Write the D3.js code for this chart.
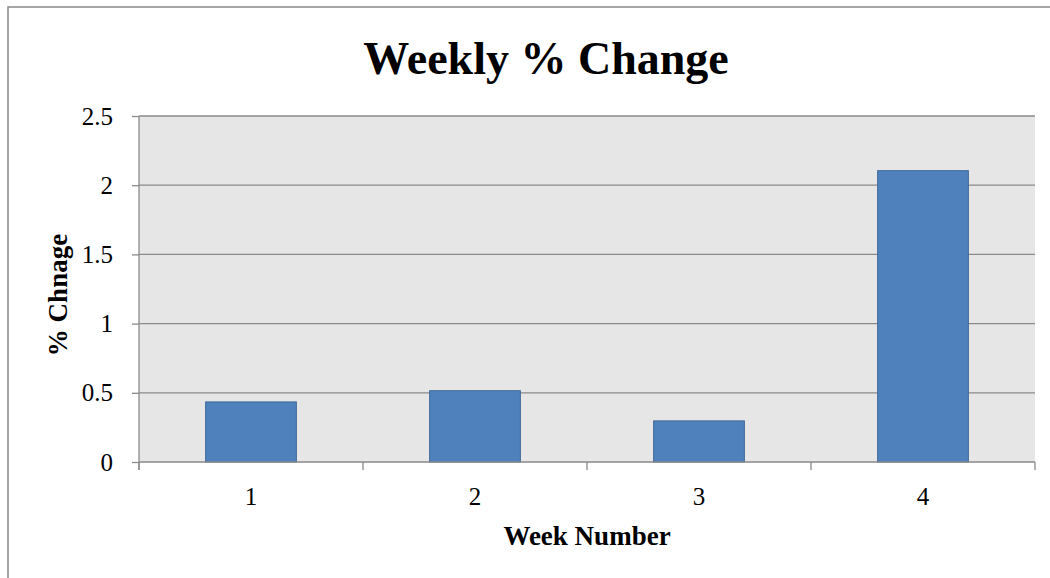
<!DOCTYPE html>
<html>
<head>
<meta charset="utf-8">
<script src="https://cdnjs.cloudflare.com/ajax/libs/d3/7.8.5/d3.min.js"></script>
<style>
  body { margin: 0; background: #fff; }
  text { font-family: "Liberation Serif", "Times New Roman", serif; fill: #000; }
</style>
</head>
<body>
<script>
// chart data
var weeks = ["1", "2", "3", "4"];
var pctChange = [0.434, 0.515, 0.297, 2.105];
var yTicks = [0, 0.5, 1, 1.5, 2, 2.5];

var W = 1050, H = 578;
var margin = {top: 116, right: 15, bottom: 116, left: 139},
    width = W - margin.left - margin.right,
    height = H - margin.top - margin.bottom;

var svg = d3.select("body").append("svg")
    .attr("width", W)
    .attr("height", H);

// outer chart border (runs off the right/bottom edge like the original)
svg.append("rect")
    .attr("x", 8).attr("y", 7)
    .attr("width", W + 20).attr("height", H + 20)
    .attr("fill", "none")
    .attr("stroke", "#898989")
    .attr("stroke-width", 1.5);

var g = svg.append("g")
    .attr("transform", "translate(" + margin.left + "," + margin.top + ")");

var xScale = d3.scaleBand().domain(weeks).range([0, width])
    .paddingInner(0.595).paddingOuter(0.2975);
var yScale = d3.scaleLinear().domain([0, 2.5]).range([height, 0]);

// plot background
g.append("rect")
    .attr("width", width).attr("height", height)
    .attr("fill", "#e6e6e6");

// horizontal gridlines
g.selectAll(".grid")
    .data(yTicks.slice(1))
  .enter().append("line")
    .attr("class", "grid")
    .attr("x1", 0).attr("x2", width)
    .attr("y1", function(d) { return yScale(d); })
    .attr("y2", function(d) { return yScale(d); })
    .attr("stroke", "#8a8a8a")
    .attr("stroke-width", 1.3);

// bars
g.selectAll(".bar")
    .data(pctChange)
  .enter().append("rect")
    .attr("class", "bar")
    .attr("x", function(d, i) { return xScale(weeks[i]); })
    .attr("y", function(d) { return yScale(d); })
    .attr("width", xScale.bandwidth())
    .attr("height", function(d) { return height - yScale(d); })
    .attr("fill", "#4f81bd")
    .attr("stroke", "#3d6896")
    .attr("stroke-width", 1);

// y axis
var yAxis = d3.axisLeft(yScale).tickValues(yTicks).tickSize(7).tickPadding(19)
    .tickFormat(function(d) { return d; });
var ya = g.append("g").attr("class", "y axis").call(yAxis);
ya.select(".domain").remove();
ya.append("line").attr("x1", 0).attr("x2", 0).attr("y1", 0).attr("y2", height + 8)
    .attr("stroke", "#8a8a8a").attr("stroke-width", 1.3);
ya.selectAll(".tick line").attr("stroke", "#8a8a8a").attr("stroke-width", 1.3);
ya.selectAll("text").style("font-size", "25px").attr("fill", "#000");

// x axis: category labels at band centres, ticks at band boundaries
var step = xScale.step();
var bounds = weeks.map(function(d, i) { return i * step; }).concat([width]);
var xa = g.append("g").attr("class", "x axis")
    .attr("transform", "translate(0," + height + ")");
xa.append("line").attr("x1", 0).attr("x2", width).attr("y1", 0).attr("y2", 0)
    .attr("stroke", "#8a8a8a").attr("stroke-width", 1.3);
xa.selectAll(".xtick").data(bounds).enter().append("line")
    .attr("x1", function(d) { return d; }).attr("x2", function(d) { return d; })
    .attr("y1", 0).attr("y2", 8)
    .attr("stroke", "#8a8a8a").attr("stroke-width", 1.3);
xa.selectAll(".xlabel").data(weeks).enter().append("text")
    .attr("x", function(d) { return xScale(d) + xScale.bandwidth() / 2; })
    .attr("y", 43)
    .attr("text-anchor", "middle")
    .style("font-size", "25px")
    .text(function(d) { return d; });

// titles
svg.append("text")
    .attr("x", 546).attr("y", 74)
    .attr("text-anchor", "middle")
    .style("font-size", "46px").style("font-weight", "bold")
    .text("Weekly % Change");

svg.append("text")
    .attr("x", 587).attr("y", 545)
    .attr("text-anchor", "middle")
    .style("font-size", "27px").style("font-weight", "bold")
    .text("Week Number");

svg.append("text")
    .attr("transform", "translate(67,295) rotate(-90)")
    .attr("text-anchor", "middle")
    .style("font-size", "27px").style("font-weight", "bold")
    .text("% Chnage");
</script>
</body>
</html>
